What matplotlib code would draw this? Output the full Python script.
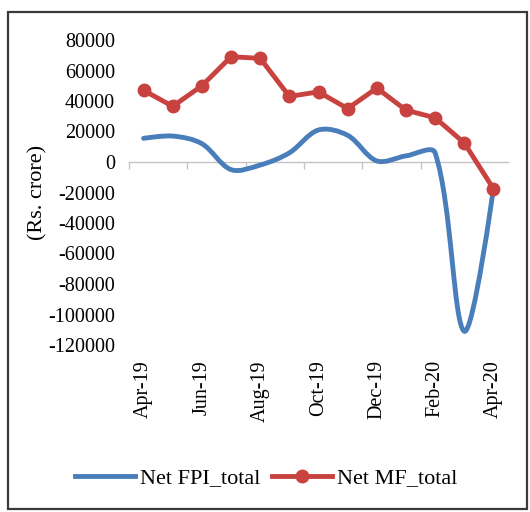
import numpy as np
import matplotlib
matplotlib.use("Agg")
import matplotlib.pyplot as plt
from matplotlib.path import Path
from matplotlib.patches import PathPatch, Rectangle
from matplotlib.lines import Line2D

months = ["Apr-19", "May-19", "Jun-19", "Jul-19", "Aug-19", "Sep-19", "Oct-19",
          "Nov-19", "Dec-19", "Jan-20", "Feb-20", "Mar-20", "Apr-20"]
net_fpi = [15500, 17000, 12000, -5000, -2000, 6000, 21000,
           17500, 700, 4000, 6000, -111000, -17500]
net_mf = [47000, 36500, 50000, 69000, 68000, 43000, 46000,
          35000, 48500, 34000, 29000, 12500, -17500]
y_ticks = [80000, 60000, 40000, 20000, 0, -20000, -40000, -60000,
           -80000, -100000, -120000]

BLUE = "#4A7EBB"
RED = "#C8423F"
FONT = "Liberation Serif"
plt.rcParams["font.family"] = [FONT, "DejaVu Serif"]

W, H = 530, 512
fig = plt.figure(figsize=(W / 100, H / 100), dpi=100)

def fx(px):
    return px / W

def fy(py):
    return 1 - py / H

left, right, top, bottom = 129, 508, 40, 345
ax = fig.add_axes([fx(left), fy(bottom), fx(right) - fx(left), fy(top) - fy(bottom)])

x = np.arange(len(months), dtype=float)
ax.set_xlim(-0.5, len(months) - 0.5)
ax.set_ylim(-120000, 80000)

# Excel-style smoothed line: Bezier through the points, control arms along
# (P[i+1]-P[i-1]) weighted by the screen length of the adjacent segments
def smooth_path(xs, ys, ax, tension=1 / 3.0):
    sx = (right - left) / (ax.get_xlim()[1] - ax.get_xlim()[0])
    sy = (bottom - top) / (ax.get_ylim()[1] - ax.get_ylim()[0])
    pts = np.column_stack([np.asarray(xs) * sx, np.asarray(ys) * sy]).astype(float)
    n = len(pts)
    seg = [np.linalg.norm(pts[i + 1] - pts[i]) for i in range(n - 1)]

    def arm(i, forward):
        if i == 0 or i == n - 1:
            return np.zeros(2)
        d = pts[i + 1] - pts[i - 1]
        tot = seg[i - 1] + seg[i]
        w = seg[i] / tot if forward else seg[i - 1] / tot
        return d * w * tension

    verts = [pts[0]]
    codes = [Path.MOVETO]
    for i in range(n - 1):
        c1 = pts[i] + arm(i, True)
        c2 = pts[i + 1] - arm(i + 1, False)
        verts += [c1, c2, pts[i + 1]]
        codes += [Path.CURVE4] * 3
    verts = np.array(verts)
    verts[:, 0] /= sx
    verts[:, 1] /= sy
    return Path(verts, codes)

patch = PathPatch(smooth_path(x, net_fpi, ax), facecolor="none", edgecolor=BLUE,
                  lw=3.5, capstyle="round", joinstyle="round", zorder=3)
ax.add_patch(patch)
ax.plot(x, net_mf, color=RED, lw=3.5, marker="o", ms=9, mfc=RED, mec=RED,
        zorder=4, solid_joinstyle="round")

for s in ["top", "right", "left"]:
    ax.spines[s].set_visible(False)
ax.spines["bottom"].set_position(("data", 0))
ax.spines["bottom"].set_color("#C4C4C4")
ax.spines["bottom"].set_linewidth(1.0)
ax.spines["bottom"].set_zorder(1)

ax.set_xticks(np.arange(-0.5, len(months), 2))
ax.tick_params(axis="x", direction="out", length=5, color="#C4C4C4",
               labelbottom=False, width=1.0)

ax.set_yticks(y_ticks)
ax.set_yticklabels([f"{v}" for v in y_ticks])
ax.tick_params(axis="y", length=0, pad=10, labelsize=14.5)
for t in ax.get_yticklabels():
    t.set_fontfamily(FONT)

sec = ax.secondary_xaxis(0)
sec.set_xticks(x[::2])
sec.set_xticklabels(months[::2], rotation=90, fontsize=14.5, fontfamily=FONT)
sec.tick_params(length=0, pad=11)
sec.spines["bottom"].set_visible(False)

fig.text(fx(38), fy(192), "(Rs. crore)", rotation=90, ha="center", va="center",
         fontsize=16, fontfamily=FONT)

handles = [Line2D([], [], color=BLUE, lw=3.5),
           Line2D([], [], color=RED, lw=3.5, marker="o", ms=9)]
fig.legend(handles, ["Net FPI_total", "Net MF_total"], loc="center",
           bbox_to_anchor=(fx(266), fy(478)), ncol=2, frameon=False,
           prop={"family": FONT, "size": 16}, handlelength=2.7,
           handletextpad=0.25, columnspacing=0.5, borderaxespad=0)

fig.patches.append(Rectangle((fx(8), fy(509)), fx(527) - fx(8), fy(12) - fy(509),
                             transform=fig.transFigure, fill=False,
                             ec="#3A3A3A", lw=1.6))

fig.savefig("out.png", dpi=100)
